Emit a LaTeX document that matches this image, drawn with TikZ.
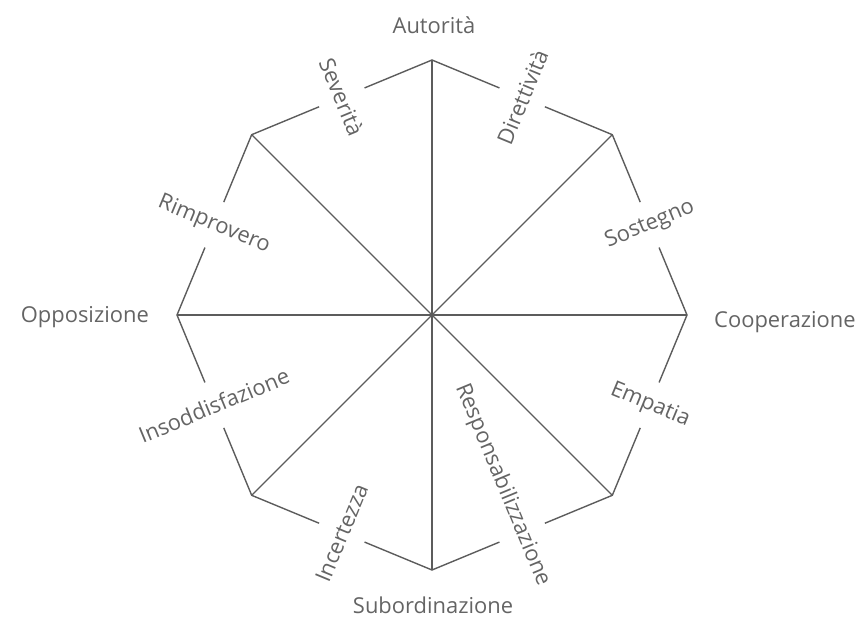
\documentclass[tikz,border=0pt]{standalone}
\usepackage{fontspec}
\setmainfont{Open Sans}
\usetikzlibrary{calc}
\definecolor{wire}{RGB}{92,92,92}
\definecolor{ink}{RGB}{100,100,100}
\tikzset{
  rim/.style={draw=wire, line width=1.4pt, line join=miter},
  spoke/.style={draw=wire, line width=1.4pt},
  pole/.style={text=ink, inner sep=0pt, font=\fontsize{22}{26}\selectfont},
  facet/.style={text=ink, inner sep=0pt, font=\fontsize{22}{26}\selectfont, anchor=center},
}
\begin{document}
\begin{tikzpicture}
\useasboundingbox (0,0) rectangle (865bp,-617bp);
\coordinate (C) at (432bp,-315bp);
% vertices of the octagon
\foreach \n/\a in {N/90, NE/45, E/0, SE/-45, S/-90, SW/-135, W/180, NW/135}
  \coordinate (\n) at ($(C)+(\a:255bp)$);

% spokes from the centre
\foreach \n in {N, NE, E, SE, S, SW, W, NW}
  \draw[spoke] (C) -- (\n);

% rim, broken where the facet labels sit
\foreach \p/\v/\q in {NW/N/NE, N/NE/E, NE/E/SE, E/SE/S, SE/S/SW, S/SW/W, SW/W/NW, W/NW/N}
  \draw[rim] ($(\p)!0.626!(\v)$) -- (\v) -- ($(\v)!0.374!(\q)$);

% labels at the vertices
\node[pole, anchor=base] (lN) at ($(N)+(2bp,27bp)$) {Autorità};
\node[pole, anchor=base west] (lE) at ($(E)+(27bp,-12bp)$) {Cooperazione};
\node[pole, anchor=base] (lS) at ($(S)+(1bp,-43bp)$) {Subordinazione};
\node[pole, anchor=base east] (lW) at ($(W)+(-28bp,-7bp)$) {Opposizione};

% labels on the rim, set along the radius
\node[facet, rotate=-67.5] (fNNW) at ($(C)+(112.5:236bp)$) {Severità};
\node[facet, rotate=67.5]  (fNNE) at ($(C)+(67.5:236bp)$) {Direttività};
\node[facet, rotate=22.5]  (fENE) at ($(C)+(22.5:236bp)$) {Sostegno};
\node[facet, rotate=-22.5] (fESE) at ($(C)+(-22.5:236bp)$) {Empatia};
\node[facet, rotate=-67.5] (fSSE) at ($(C)+(-67.5:184bp)$) {Responsabilizzazione};
\node[facet, rotate=67.5]  (fSSW) at ($(C)+(-112.5:236bp)$) {Incertezza};
\node[facet, rotate=22.5]  (fWSW) at ($(C)+(-157.5:236bp)$) {Insoddisfazione};
\node[facet, rotate=-22.5] (fWNW) at ($(C)+(157.5:236bp)$) {Rimprovero};
\end{tikzpicture}
\end{document}
